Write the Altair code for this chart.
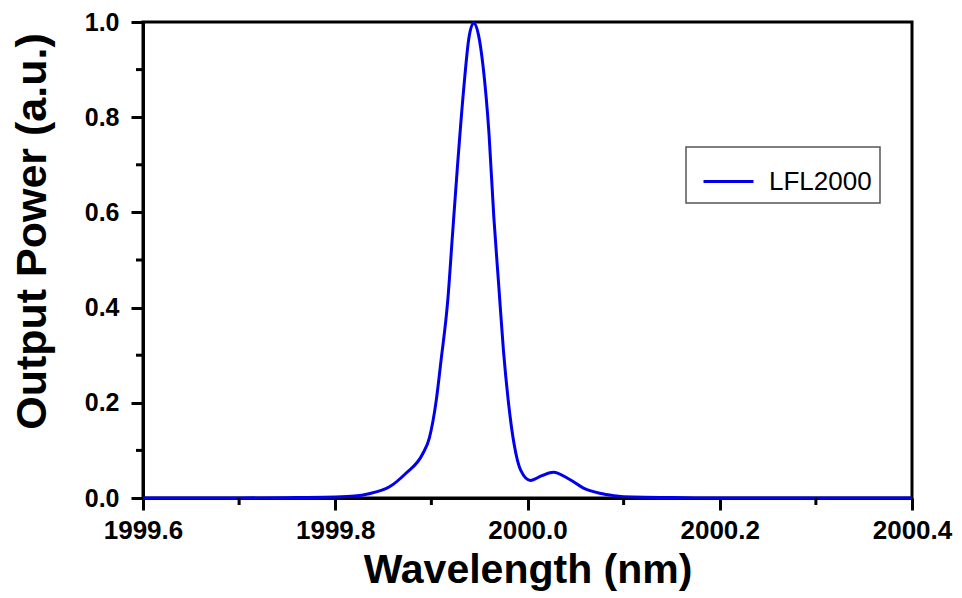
import altair as alt
import pandas as pd

wavelength = [1999.60, 1999.70, 1999.76, 1999.80, 1999.82, 1999.835, 1999.856, 1999.873,
              1999.891, 1999.898, 1999.905, 1999.910, 1999.917, 1999.922, 1999.927,
              1999.934, 1999.939, 1999.944, 1999.949, 1999.954, 1999.960, 1999.965,
              1999.970, 1999.975, 1999.980, 1999.986, 1999.993, 2000.003, 2000.015,
              2000.027, 2000.043, 2000.060, 2000.075, 2000.090, 2000.110, 2000.150,
              2000.200, 2000.400]
power = [0.0, 0.0, 0.001, 0.002, 0.004, 0.009, 0.023, 0.051,
         0.093, 0.127, 0.204, 0.288, 0.414, 0.554, 0.693,
         0.868, 0.966, 0.998, 0.973, 0.903, 0.764, 0.589,
         0.449, 0.309, 0.204, 0.114, 0.058, 0.037, 0.047,
         0.054, 0.040, 0.019, 0.010, 0.005, 0.002, 0.001,
         0.0, 0.0]
series = ["LFL2000"] * len(wavelength)

x_major = [1999.6, 1999.8, 2000.0, 2000.2, 2000.4]
x_minor = [1999.7, 1999.9, 2000.1, 2000.3]
y_major = [0.0, 0.2, 0.4, 0.6, 0.8, 1.0]
y_minor = [0.1, 0.3, 0.5, 0.7, 0.9]

df = pd.DataFrame({"wavelength": wavelength, "power": power, "series": series})
dfx = pd.DataFrame({"v": x_minor})
dfy = pd.DataFrame({"v": y_minor})

FONT = "Liberation Sans"
NBSP = "\u00a0"
xscale = alt.Scale(domain=[1999.6, 2000.4], nice=False, zero=False)
yscale = alt.Scale(domain=[0.0, 1.0], nice=False)

line = alt.Chart(df).mark_line(strokeWidth=3, interpolate="monotone").encode(
    x=alt.X("wavelength:Q", scale=xscale,
            axis=alt.Axis(values=x_major, format=".1f", title="Wavelength (nm)",
                          tickSize=12, tickWidth=3, tickColor="black",
                          domainWidth=3, domainColor="black", grid=False,
                          labelFlush=False, labelOverlap=False,
                          labelFont=FONT, labelFontSize=26, labelFontWeight="bold",
                          labelColor="black", labelPadding=7,
                          titleFont=FONT, titleFontSize=41, titleFontWeight="bold",
                          titleColor="black", titleY=84, titleBaseline="alphabetic")),
    y=alt.Y("power:Q", scale=yscale,
            axis=alt.Axis(values=y_major, format=".1f", title="Output Power (a.u.)",
                          tickSize=12, tickWidth=3, tickColor="black",
                          domainWidth=3, domainColor="black", grid=False,
                          labelFlush=False, labelOverlap=False,
                          labelFont=FONT, labelFontSize=25, labelFontWeight="bold",
                          labelColor="black", labelPadding=12,
                          titleFont=FONT, titleFontSize=43, titleFontWeight="bold",
                          titleColor="black", titleAngle=270, titleX=-98, titleY=209,
                          titleBaseline="alphabetic", titleAlign="center")),
    color=alt.Color("series:N", scale=alt.Scale(range=["#0000ee"]),
                    legend=alt.Legend(title=None, orient="none", legendX=543, legendY=125,
                                      symbolType="M-1,0H1", symbolSize=2500,
                                      symbolStrokeWidth=3, symbolOffset=8,
                                      labelFont=FONT,
                                      labelExpr="datum.label + '" + NBSP + NBSP + "'",
                                      labelFontSize=26, labelColor="black",
                                      labelOffset=14, padding=8,
                                      strokeColor="#555555", fillColor="white")),
)

minor_x = alt.Chart(dfx).mark_rule(color="black", strokeWidth=3).encode(
    x=alt.X("v:Q", scale=xscale), y=alt.value(476), y2=alt.value(483))
minor_y = alt.Chart(dfy).mark_rule(color="black", strokeWidth=3).encode(
    y=alt.Y("v:Q", scale=yscale), x=alt.value(0), x2=alt.value(-7))

chart = alt.layer(line, minor_x, minor_y).properties(
    width=769, height=476,
    autosize=alt.AutoSizeParams(type="none"),
    padding={"left": 135, "top": 14, "right": 42, "bottom": 100},
).configure_view(stroke="black", strokeWidth=3).configure_legend(
    strokeWidth=1.5, cornerRadius=0)

chart.save("out.html", embed_options={"renderer": "svg", "actions": False})
